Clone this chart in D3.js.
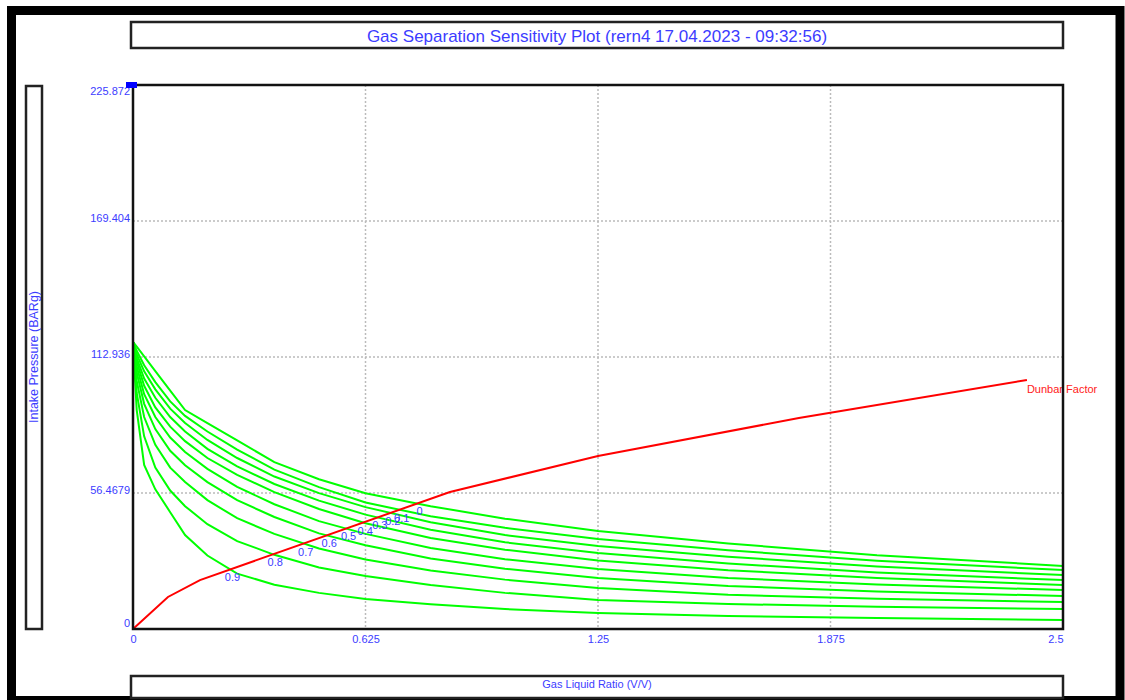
<!DOCTYPE html>
<html><head><meta charset="utf-8">
<script src="https://cdn.jsdelivr.net/npm/d3@7"></script>
<style>
body{margin:0;background:#fff;}
text{font-family:"Liberation Sans",Arial,sans-serif;}
</style>
</head><body>
<svg id="chart" width="1125" height="700"></svg>
<script>
// ---------------- data ----------------
const glrPoints = [0, 0.01, 0.03, 0.06, 0.1, 0.14, 0.2, 0.28, 0.38, 0.5, 0.625, 0.8, 1.0, 1.25, 1.6, 2.0, 2.5];
const eff0  = [119.2,117.2,113.2,107.1,99.0,90.9,85.5,78.3,69.3,62.2,56.4,51.0,45.8,40.7,35.5,30.6,26.2];
const eff01 = [119.2,115.5,109.5,102.5,94.5,88.5,82.0,74.5,66.2,58.9,52.5,46.8,42.0,37.4,32.7,28.3,24.5];
const eff02 = [119.2,114.0,107.0,99.5,91.5,85.5,78.5,71.0,63.3,56.4,50.6,44.3,39.0,34.5,30.0,25.9,22.4];
const eff03 = [119.2,112.5,104.0,96.0,88.0,82.0,74.8,67.5,60.2,53.3,47.5,41.2,36.0,31.6,27.2,23.5,20.3];
const eff04 = [119.2,111.0,101.0,92.0,84.0,78.0,71.0,64.0,56.8,49.8,43.9,37.8,32.9,28.4,24.4,21.2,18.3];
const eff05 = [119.2,109.0,97.5,88.0,79.5,73.5,66.5,59.0,51.8,44.8,39.5,33.6,29.0,24.9,21.2,18.5,16.2];
const eff06 = [119.2,106.5,93.5,83.0,74.0,68.0,61.0,53.5,46.5,39.7,34.8,29.3,25.0,21.2,17.9,15.6,13.7];
const eff07 = [119.2,103.0,88.0,76.5,67.0,61.0,53.5,46.0,39.5,33.4,28.9,24.3,20.5,17.0,14.2,12.6,11.2];
const eff08 = [119.2,98.0,80.0,67.0,57.5,51.0,43.5,36.5,30.8,25.5,22.0,18.3,15.0,12.0,10.4,9.2,8.3];
const eff09 = [119.2,90.9,68.1,58.0,48.5,39.0,30.5,23.0,18.4,15.0,12.5,10.3,8.3,6.6,5.4,4.6,3.7];
const effSeries = [eff0, eff01, eff02, eff03, eff04, eff05, eff06, eff07, eff08, eff09];
const effLabels = ["0","0.1","0.2","0.3","0.4","0.5","0.6","0.7","0.8","0.9"];

const dunbarGlr = [0, 0.094, 0.18, 0.852, 1.25, 1.79, 2.403];
const dunbarP   = [0, 13.3, 20.3, 56.9, 71.8, 87.6, 103.4];

const xTickValues = [0, 0.625, 1.25, 1.875, 2.5];
const xTickLabels = ["0", "0.625", "1.25", "1.875", "2.5"];
const yTickValues = [0, 56.468, 112.936, 169.404, 225.872];
const yTickLabels = ["0", "56.4679", "112.936", "169.404", "225.872"];

const titleText = "Gas Separation Sensitivity Plot (rern4 17.04.2023 - 09:32:56)";
const xTitle = "Gas Liquid Ratio (V/V)";
const yTitle = "Intake Pressure  (BARg)";
const dunbarName = "Dunbar Factor";

// ---------------- layout ----------------
const svg = d3.select("#chart");
const blue = "#3c3cff";
const L = 133, R = 1063, T = 85, B = 629;
const x = d3.scaleLinear().domain([0, 2.5]).range([L, R]);
const y = d3.scaleLinear().domain([0, 225.872]).range([B, T]);

// outer frame
svg.append("rect").attr("x", 11.5).attr("y", 10.5).attr("width", 1108.5).attr("height", 690)
  .attr("fill", "#fff").attr("stroke", "#000").attr("stroke-width", 9);

function box(x0, y0, w, h) {
  svg.append("rect").attr("x", x0).attr("y", y0).attr("width", w).attr("height", h)
    .attr("fill", "#fff").attr("stroke", "#222").attr("stroke-width", 2.5);
}
// title box
box(131, 22, 932, 26);
svg.append("text").attr("x", 597).attr("y", 41.5).attr("text-anchor", "middle")
  .attr("font-size", 17).attr("fill", blue).text(titleText);

// y title box
box(26, 86, 16, 543);
svg.append("text").attr("transform", "translate(38,357) rotate(-90)").attr("text-anchor", "middle")
  .attr("font-size", 12.5).attr("fill", blue).text(yTitle);

// x title box
box(131, 676, 932, 22);
svg.append("text").attr("x", 597).attr("y", 688).attr("text-anchor", "middle")
  .attr("font-size", 11).attr("fill", blue).text(xTitle);

// gridlines
const grid = svg.append("g");
grid.selectAll("line.v").data(xTickValues.slice(1, -1)).join("line")
  .attr("x1", d => x(d)).attr("x2", d => x(d)).attr("y1", T).attr("y2", B)
  .attr("stroke", "#bbb").attr("stroke-width", 1.5).attr("stroke-dasharray", "2,2");
grid.selectAll("line.h").data(yTickValues.slice(1, -1)).join("line")
  .attr("x1", L).attr("x2", R).attr("y1", d => y(d)).attr("y2", d => y(d))
  .attr("stroke", "#bbb").attr("stroke-width", 1.5).attr("stroke-dasharray", "2,2");

// curves
const line = d3.line().x(d => x(d[0])).y(d => y(d[1]));
const curvesG = svg.append("g");
effSeries.forEach(s => {
  curvesG.append("path").datum(glrPoints.map((g, i) => [g, s[i]]))
    .attr("d", line).attr("fill", "none").attr("stroke", "#00ff00").attr("stroke-width", 2);
});
const dunbarData = dunbarGlr.map((g, i) => [g, dunbarP[i]]);
svg.append("path").datum(dunbarData).attr("d", line).attr("fill", "none")
  .attr("stroke", "#ff0000").attr("stroke-width", 2);
svg.append("text").attr("x", x(dunbarGlr[dunbarGlr.length - 1])).attr("y", y(dunbarP[dunbarP.length - 1]) + 13)
  .attr("font-size", 11).attr("fill", "#ff2020").text(dunbarName);

// intersections of each curve with the Dunbar line
function interp(xs, ys, g) {
  for (let i = 1; i < xs.length; i++) {
    if (g <= xs[i]) { const t = (g - xs[i-1]) / (xs[i] - xs[i-1]); return ys[i-1] + t * (ys[i] - ys[i-1]); }
  }
  return ys[ys.length - 1];
}
effSeries.forEach((s, k) => {
  let prev = null, hit = null;
  for (let g = 0.001; g <= 2.5; g += 0.001) {
    const diff = interp(glrPoints, s, g) - interp(dunbarGlr, dunbarP, g);
    if (prev !== null && prev > 0 && diff <= 0) { hit = g; break; }
    prev = diff;
  }
  if (hit !== null) {
    svg.append("text").attr("x", x(hit) + 2).attr("y", y(interp(dunbarGlr, dunbarP, hit)) + 12)
      .attr("text-anchor", "middle").attr("font-size", 11).attr("fill", blue).text(effLabels[k]);
  }
});

// axes frame
svg.append("rect").attr("x", L).attr("y", T).attr("width", R - L).attr("height", B - T)
  .attr("fill", "none").attr("stroke", "#111").attr("stroke-width", 2.5);

// axes labels
const xAxis = d3.axisBottom(x).tickValues(xTickValues).tickSize(0).tickPadding(6)
  .tickFormat((d, i) => xTickLabels[i]);
const gx = svg.append("g").attr("transform", `translate(0,${B})`).call(xAxis);
gx.select(".domain").remove();
gx.selectAll("text").attr("font-size", 11).attr("fill", blue)
  .attr("font-family", "Liberation Sans, Arial, sans-serif")
  .attr("text-anchor", (d, i) => i === xTickValues.length - 1 ? "end" : "middle");

const yAxis = d3.axisLeft(y).tickValues(yTickValues).tickSize(0).tickPadding(3)
  .tickFormat((d, i) => yTickLabels[i]);
const gy = svg.append("g").attr("transform", `translate(${L},0)`).call(yAxis);
gy.select(".domain").remove();
gy.selectAll("text").attr("font-size", 11).attr("fill", blue)
  .attr("font-family", "Liberation Sans, Arial, sans-serif")
  .attr("dy", (d, i) => i === yTickValues.length - 1 ? "0.9em" : (i === 0 ? "-0.2em" : "0.0em"));

// blue marker at top of y axis
svg.append("rect").attr("x", x(0) - 7).attr("y", y(225.872) - 3).attr("width", 11).attr("height", 6)
  .attr("fill", "#0000ff");
</script>
</body></html>
